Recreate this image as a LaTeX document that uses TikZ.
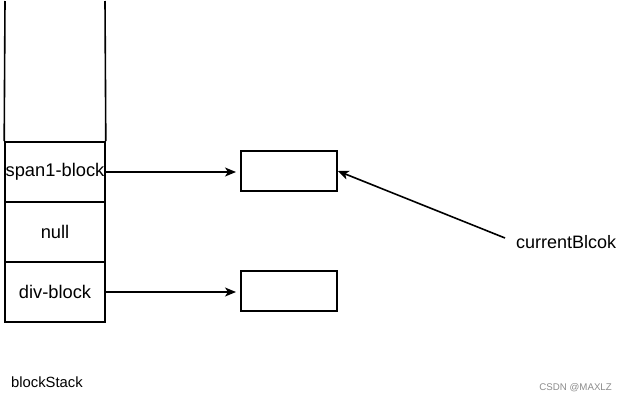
\documentclass[tikz,border=0pt]{standalone}
\usepackage{fontspec}
\setmainfont{Liberation Sans}
\usetikzlibrary{arrows.meta}
\begin{document}
\begin{tikzpicture}[x=1pt,y=-1pt,
  cell/.style={draw,line width=1.6pt,minimum width=100pt,minimum height=60pt,inner sep=0pt,font=\fontsize{18.3}{21}\selectfont},
  ptr/.style={draw,line width=1.6pt,minimum width=96pt,minimum height=40pt,inner sep=0pt},
  arr/.style={line width=1.6pt,-{Stealth[length=11pt,width=9pt,inset=3pt]}},
  lbl/.style={inner sep=0pt,font=\fontsize{18}{21}\selectfont}]
\useasboundingbox (0,0) rectangle (626,402);
\node[cell] (span) at (55,172) {span1-block};
\node[cell] (null) at (55,232) {null};
\node[cell] (div) at (55,292) {div-block};
\coordinate (tl) at (5,1);
\coordinate (tr) at (105,1);
\draw[line width=1.6pt] (tl) -- (span.north west);
\draw[line width=1.6pt] (tr) -- (span.north east);
\node[ptr] (b1) at (289,171) {};
\node[ptr] (b2) at (289,291) {};
\coordinate (e1) at (236,172);
\coordinate (e2) at (236,292);
\draw[arr] (span.east) -- (e1);
\draw[arr] (div.east) -- (e2);
\node[lbl,anchor=west] (cur) at (516,242) {currentBlcok};
\coordinate (cs) at (505,238);
\draw[arr] (cs) -- (b1.east);
\node[inner sep=0pt,anchor=west,font=\fontsize{14.8}{17}\selectfont] (bs) at (11,382) {blockStack};
\node[inner sep=0pt,anchor=east,text=black!45,font=\fontsize{9.7}{11}\selectfont] (wm) at (612,388) {CSDN @MAXLZ};
\end{tikzpicture}
\end{document}
